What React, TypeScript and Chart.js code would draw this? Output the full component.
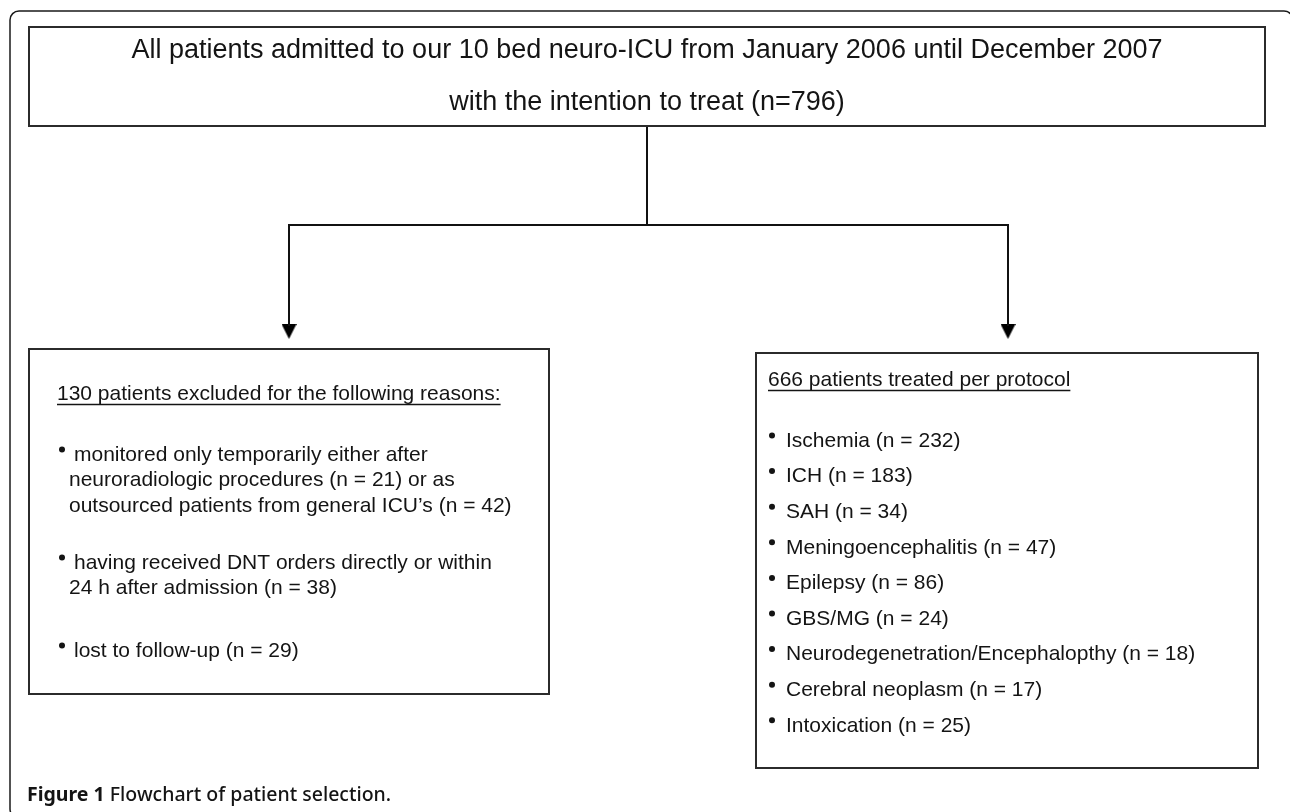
import React, { useEffect, useRef } from "react";
import { Chart, registerables } from "chart.js";

Chart.register(...registerables);

// ---------------- data ----------------
const unitBeds = 10;
const periodFrom = "January 2006";
const periodTo = "December 2007";
// neuroradiologic procedures, outsourced from general ICU's, DNT orders, lost to follow-up
const exclusionCounts = [21, 42, 38, 29];
const diagnosisLabels = [
  "Ischemia",
  "ICH",
  "SAH",
  "Meningoencephalitis",
  "Epilepsy",
  "GBS/MG",
  "Neurodegenetration/Encephalopthy",
  "Cerebral neoplasm",
  "Intoxication",
];
const diagnosisCounts = [232, 183, 34, 47, 86, 24, 18, 17, 25];
const captionLabel = "Figure 1";
const captionText = "Flowchart of patient selection";

const excludedTotal = exclusionCounts.reduce((a, b) => a + b, 0);
const treatedTotal = diagnosisCounts.reduce((a, b) => a + b, 0);
const admittedTotal = excludedTotal + treatedTotal;

const topLines = [
  `All patients admitted to our ${unitBeds} bed neuro-ICU from ${periodFrom} until ${periodTo}`,
  `with the intention to treat (n=${admittedTotal})`,
];
const excludedHeader = `${excludedTotal} patients excluded for the following reasons:`;
const exclusionParagraphs = [
  [
    "monitored only temporarily either after",
    `neuroradiologic procedures (n = ${exclusionCounts[0]}) or as`,
    `outsourced patients from general ICU\u2019s (n = ${exclusionCounts[1]})`,
  ],
  ["having received DNT orders directly or within", `24 h after admission (n = ${exclusionCounts[2]})`],
  [`lost to follow-up (n = ${exclusionCounts[3]})`],
];
const treatedHeader = `${treatedTotal} patients treated per protocol`;
const treatedItems = diagnosisLabels.map((l, i) => `${l} (n = ${diagnosisCounts[i]})`);

// ---------------- layout ----------------
const W = 1290;
const H = 812;
const FONT = "'Liberation Sans', Arial, sans-serif";
const CAP_FONT = "'Noto Sans', 'Open Sans', sans-serif";
const INK = "#141414";
const BORDER = "#2b2b2b";
const topBox = { x0: 29, y0: 27, x1: 1265, y1: 126 };
const leftBox = { x0: 29, y0: 349, x1: 549, y1: 694 };
const rightBox = { x0: 756, y0: 353, x1: 1258, y1: 768 };
const stemX = (topBox.x0 + topBox.x1) / 2;
const splitY = 225;
const leftArrowX = 289;
const rightArrowX = 1008;
const arrowTipY = 339;
const arrowLen = 15;
const arrowW = 15;
const topLineY = [51, 103];
const topFontSize = 27;
const boxFontSize = 21;
const leftHeaderY = 394;
const leftParaY = [455, 563, 651];
const leftLineH = 25.5;
const leftBulletX = 62;
const leftTextX = 74;
const leftContX = 69;
const leftHeaderX = 57;
const rightHeaderY = 380;
const rightItemY0 = 441;
const rightItemStep = 35.6;
const rightHeaderX = 768;
const rightBulletX = 772;
const rightTextX = 786;
const bulletLift = 5.5;
const captionX = 27;
const captionY = 795;
const captionSize = 19.5;

function rectPath(b: { x0: number; y0: number; x1: number; y1: number }) {
  return [
    { x: b.x0, y: b.y0 },
    { x: b.x1, y: b.y0 },
    { x: b.x1, y: b.y1 },
    { x: b.x0, y: b.y1 },
    { x: b.x0, y: b.y0 },
  ];
}

function makeArrowImage() {
  const c = document.createElement("canvas");
  c.width = arrowW;
  c.height = arrowLen;
  const g = c.getContext("2d")!;
  g.fillStyle = "#000";
  g.beginPath();
  g.moveTo(0, 0);
  g.lineTo(arrowW, 0);
  g.lineTo(arrowW / 2, arrowLen);
  g.closePath();
  g.fill();
  return c;
}

export default function App() {
  const ref = useRef<HTMLCanvasElement | null>(null);

  useEffect(() => {
    if (!ref.current) return;

    const bulletPts: { x: number; y: number }[] = [];
    exclusionParagraphs.forEach((_, i) => bulletPts.push({ x: leftBulletX, y: leftParaY[i] - bulletLift }));
    treatedItems.forEach((_, i) => bulletPts.push({ x: rightBulletX, y: rightItemY0 + i * rightItemStep - bulletLift }));

    const lineDs = (data: { x: number; y: number }[], width = 2, color = BORDER) => ({
      data,
      showLine: true,
      fill: false,
      borderColor: color,
      borderWidth: width,
      pointRadius: 0,
      borderCapStyle: "square" as const,
      borderJoinStyle: "miter" as const,
      tension: 0,
      clip: false as any,
    });

    const textPlugin = {
      id: "flowText",
      beforeDatasetsDraw(chart: any) {
        const { ctx, scales } = chart;
        const px = (v: number) => scales.x.getPixelForValue(v);
        const py = (v: number) => scales.y.getPixelForValue(v);
        ctx.save();
        ctx.strokeStyle = "#1a1a1a";
        ctx.lineWidth = 1.5;
        const fx0 = px(10), fy0 = py(11), fx1 = px(1293), fy1 = py(818), r = 9;
        ctx.beginPath();
        ctx.moveTo(fx0 + r, fy0);
        ctx.lineTo(fx1 - r, fy0);
        ctx.arcTo(fx1, fy0, fx1, fy0 + r, r);
        ctx.lineTo(fx1, fy1 - r);
        ctx.arcTo(fx1, fy1, fx1 - r, fy1, r);
        ctx.lineTo(fx0 + r, fy1);
        ctx.arcTo(fx0, fy1, fx0, fy1 - r, r);
        ctx.lineTo(fx0, fy0 + r);
        ctx.arcTo(fx0, fy0, fx0 + r, fy0, r);
        ctx.stroke();
        ctx.restore();
      },
      afterDatasetsDraw(chart: any) {
        const { ctx, scales } = chart;
        const px = (v: number) => scales.x.getPixelForValue(v);
        const py = (v: number) => scales.y.getPixelForValue(v);
        ctx.save();
        ctx.fillStyle = INK;
        ctx.textBaseline = "middle";

        ctx.font = `${topFontSize}px ${FONT}`;
        ctx.textAlign = "center";
        topLines.forEach((t, i) => ctx.fillText(t, px(stemX), py(topLineY[i])));

        ctx.textAlign = "left";
        ctx.font = `${boxFontSize}px ${FONT}`;
        const underline = (t: string, x: number, y: number) => {
          ctx.fillText(t, px(x), py(y));
          const w = ctx.measureText(t).width;
          ctx.strokeStyle = INK;
          ctx.lineWidth = 1.5;
          ctx.beginPath();
          ctx.moveTo(px(x), py(y) + boxFontSize * 0.5);
          ctx.lineTo(px(x) + w, py(y) + boxFontSize * 0.5);
          ctx.stroke();
        };

        underline(excludedHeader, leftHeaderX, leftHeaderY);
        exclusionParagraphs.forEach((para, i) => {
          para.forEach((line, j) => {
            ctx.fillText(line, px(j === 0 ? leftTextX : leftContX), py(leftParaY[i] + j * leftLineH));
          });
        });

        underline(treatedHeader, rightHeaderX, rightHeaderY);
        treatedItems.forEach((t, i) => ctx.fillText(t, px(rightTextX), py(rightItemY0 + i * rightItemStep)));

        const capY = py(captionY);
        ctx.font = `bold ${captionSize}px ${CAP_FONT}`;
        ctx.fillText(captionLabel, px(captionX), capY);
        const cw = ctx.measureText(captionLabel + " ").width;
        ctx.font = `500 ${captionSize}px ${CAP_FONT}`;
        ctx.fillText(captionText + ".", px(captionX) + cw, capY);
        ctx.restore();
      },
    };

    const arrowImg = makeArrowImage();

    const chart = new Chart(ref.current, {
      type: "scatter",
      data: {
        datasets: [
          lineDs(rectPath(topBox)),
          lineDs(rectPath(leftBox)),
          lineDs(rectPath(rightBox)),
          lineDs([{ x: stemX, y: topBox.y1 }, { x: stemX, y: splitY }], 2, "#111"),
          lineDs([{ x: leftArrowX, y: splitY }, { x: rightArrowX, y: splitY }], 2, "#111"),
          lineDs([{ x: leftArrowX, y: splitY }, { x: leftArrowX, y: arrowTipY - arrowLen + 1 }], 2, "#111"),
          lineDs([{ x: rightArrowX, y: splitY }, { x: rightArrowX, y: arrowTipY - arrowLen + 1 }], 2, "#111"),
          {
            data: [
              { x: leftArrowX, y: arrowTipY - arrowLen / 2 },
              { x: rightArrowX, y: arrowTipY - arrowLen / 2 },
            ],
            pointStyle: arrowImg as any,
            pointRadius: 8,
            showLine: false,
            clip: false as any,
          },
          {
            data: bulletPts,
            pointStyle: "circle",
            pointRadius: 3,
            pointBackgroundColor: INK,
            pointBorderWidth: 0,
            showLine: false,
            clip: false as any,
          },
        ] as any,
      },
      options: {
        responsive: false,
        animation: false,
        events: [],
        devicePixelRatio: 1,
        layout: { padding: 0, autoPadding: false },
        plugins: { legend: { display: false }, tooltip: { enabled: false } },
        scales: {
          x: { type: "linear", min: 0, max: W, display: false },
          y: { type: "linear", min: 0, max: H, reverse: true, display: false },
        },
      },
      plugins: [textPlugin],
    });
    return () => chart.destroy();
  }, []);

  return (
    <div style={{ position: "fixed", left: 0, top: 0, width: W, height: H, background: "#fff" }}>
      <canvas ref={ref} width={W} height={H} style={{ display: "block", width: W, height: H }} />
    </div>
  );
}
